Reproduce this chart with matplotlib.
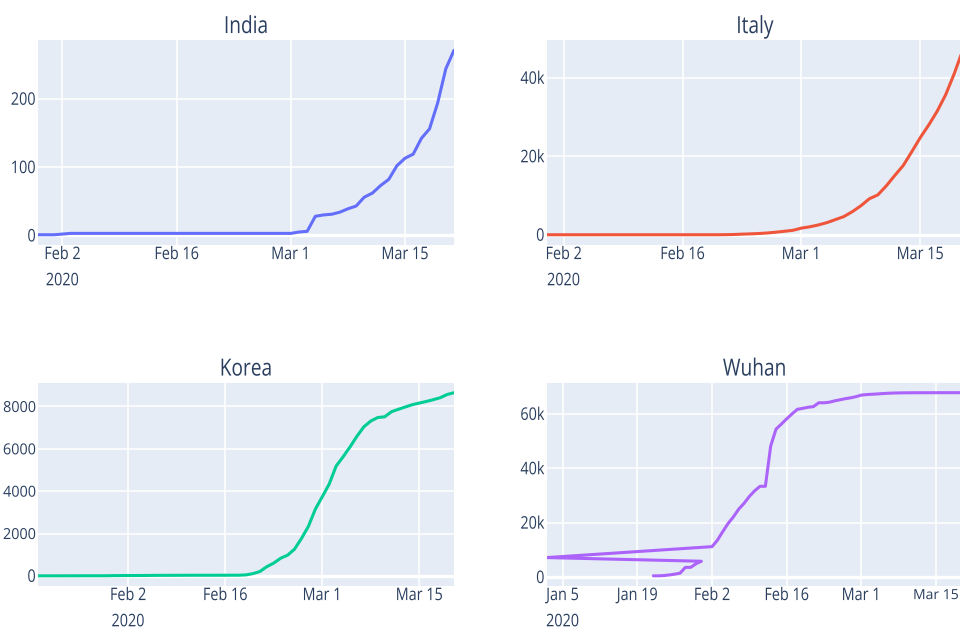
import matplotlib
matplotlib.use("Agg")
import matplotlib.pyplot as plt
from matplotlib.patheffects import AbstractPathEffect
from matplotlib.transforms import Affine2D
from matplotlib.ticker import FuncFormatter
import numpy as np
import pandas as pd

# ---- cumulative confirmed cases, one value per day ----
india_start = "2020-01-30"
india_cases = [1, 1, 1, 2] + [3] * 28 + [5, 6, 28, 30, 31, 34, 39, 43, 56, 62, 73, 82,
                                         102, 113, 119, 142, 156, 194, 244, 271]

italy_start = "2020-01-31"
italy_cases = ([2] * 7 + [3] * 14 +
               [20, 62, 155, 229, 322, 453, 655, 888, 1128,
                1694, 2036, 2502, 3089, 3858, 4636, 5883, 7375, 9172, 10149,
                12462, 15113, 17660, 21157, 24747, 27980, 31506, 35713, 41035, 47021])

korea_start = "2020-01-20"
korea_cases = [1, 1, 1, 1, 2, 2, 3, 4, 4, 4, 4, 11,
               12, 15, 15, 16, 19, 23, 24, 24, 25, 27, 28, 28, 28, 28, 28, 29, 30, 31,
               46, 104, 204, 433, 602, 833, 977, 1261, 1766, 2337, 3150,
               3736, 4335, 5186, 5621, 6088, 6593, 7041, 7314, 7478, 7513,
               7755, 7869, 7979, 8086, 8162, 8236, 8320, 8413, 8565, 8652]

# Hubei rows in file order; the 1 Feb row carries a day-first date (02/01 -> 2 Jan)
wuhan_dates = (list(pd.date_range("2020-01-22", "2020-01-31")) +
               [pd.Timestamp("2020-01-02")] +
               list(pd.date_range("2020-02-02", "2020-03-20")))
wuhan_cases = [444, 444, 549, 761, 1058, 1423, 3554, 3554, 4903, 5806,
               7153,
               11177, 13522, 16678, 19665, 22112, 24953, 27100, 29631, 31728, 33366,
               33366, 48206, 54406, 56249, 58182, 59989, 61682, 62031, 62442, 62662,
               64084, 64084, 64287, 64786, 65187, 65596, 65914, 66337,
               66907, 67103, 67217, 67332, 67466, 67592, 67666, 67707, 67743, 67760,
               67773, 67781, 67786, 67790, 67794, 67798, 67799, 67800, 67800, 67800]

date_ticks = ["2020-01-05", "2020-01-19", "2020-02-02", "2020-02-16",
              "2020-03-01", "2020-03-15"]

india_yticks = [0, 100, 200]
italy_yticks = [0, 20000, 40000]
korea_yticks = [0, 2000, 4000, 6000, 8000]
wuhan_yticks = [0, 20000, 40000, 60000]

titles = ["India", "Italy", "Korea", "Wuhan"]

# ---- styling ----
BG = "#E5ECF6"
TEXT = "#2a3f5f"
COLORS = ["#636EFA", "#EF553B", "#00CC96", "#AB63FA"]
TICK_SIZE = 12.5
TICK_SX = 0.83
plt.rcParams["font.family"] = ["Open Sans", "DejaVu Sans"]


class Narrow(AbstractPathEffect):
    """Draw text glyphs squeezed horizontally about an anchor of each line."""

    def __init__(self, sx=0.83, anchor="center"):
        super().__init__()
        self.sx = sx
        self.anchor = anchor

    def draw_path(self, renderer, gc, tpath, affine, rgbFace=None):
        ext = tpath.get_extents()
        if self.anchor == "right":
            x0 = ext.x1
        elif self.anchor == "left":
            x0 = ext.x0
        else:
            x0 = 0.5 * (ext.x0 + ext.x1)
        squeeze = Affine2D().translate(-x0, 0).scale(self.sx, 1).translate(x0, 0)
        renderer.draw_path(gc, tpath, squeeze + affine, rgbFace)


W, H = 960, 635
fig = plt.figure(figsize=(W / 100, H / 100), dpi=100)


def rect(left, top, right, bottom):
    return [left / W, 1 - bottom / H, (right - left) / W, (bottom - top) / H]


rects = [rect(38, 40, 454, 245), rect(546.7, 40, 962.7, 245),
         rect(38, 382.5, 454, 586), rect(546.7, 382.5, 962.7, 586)]


def fmt_count(v, _pos):
    if abs(v) >= 10000:
        return f"{v / 1000:g}k"
    return f"{v:g}"


series = [
    (pd.date_range(india_start, periods=len(india_cases)), india_cases, india_yticks),
    (pd.date_range(italy_start, periods=len(italy_cases)), italy_cases, italy_yticks),
    (pd.date_range(korea_start, periods=len(korea_cases)), korea_cases, korea_yticks),
    (pd.DatetimeIndex(wuhan_dates), wuhan_cases, wuhan_yticks),
]

tick_dates = pd.to_datetime(date_ticks)

for title, (x, cases, yticks), color, r in zip(titles, series, COLORS, rects):
    ax = fig.add_axes(r)
    ax.set_facecolor(BG)
    for s in ax.spines.values():
        s.set_visible(False)
    ax.set_axisbelow(True)

    y = np.asarray(cases, dtype=float)
    ax.plot(x, y, color=color, lw=2.2, solid_joinstyle="round",
            solid_capstyle="round", zorder=3)

    ax.set_xlim(x.min(), x.max())
    pad = (y.max() - y.min()) / 18
    ax.set_ylim(y.min() - pad, y.max() + pad)

    ax.set_yticks(yticks)
    ax.yaxis.set_major_formatter(FuncFormatter(fmt_count))

    ticks = [d for d in tick_dates if x.min() <= d <= x.max()]
    labels = [f"{d:%b} {d.day}" for d in ticks]
    labels[0] += "\n2020"
    ax.set_xticks(ticks)
    ax.set_xticklabels(labels)

    ax.grid(True, color="white", lw=1.1)
    ax.axhline(0, color="white", lw=2.4, zorder=2)
    ax.tick_params(length=0, labelsize=TICK_SIZE, labelcolor=TEXT)
    ax.tick_params(axis="x", pad=1.5)
    ax.tick_params(axis="y", pad=1.5)

    for lbl in ax.get_xticklabels():
        lbl.set_linespacing(1.85)
        lbl.set_path_effects([Narrow(TICK_SX, "center")])
    for lbl in ax.get_yticklabels():
        lbl.set_path_effects([Narrow(TICK_SX, "right")])

    t = ax.set_title(title, fontsize=17, color=TEXT, pad=5)
    t.set_path_effects([Narrow(0.81, "center")])

# Tick labels whose nominal box runs past the canvas edge get a smaller size
# and a looser squeeze, so the drawn glyph width stays the same.
fig.canvas.draw()
renderer = fig.canvas.get_renderer()
for ax in fig.axes:
    for lbl, anchor in ([(l, "center") for l in ax.get_xticklabels()] +
                        [(l, "right") for l in ax.get_yticklabels()]):
        if not lbl.get_text():
            continue
        bb = lbl.get_window_extent(renderer)
        if anchor == "right":
            need, room = bb.width, bb.x1 - 1
        else:
            cx = 0.5 * (bb.x0 + bb.x1)
            need, room = bb.width / 2, min(cx, W - cx) - 1
        if need > room:
            f = room / need
            lbl.set_fontsize(TICK_SIZE * f)
            lbl.set_path_effects([Narrow(min(1.0, TICK_SX / f), anchor)])

fig.savefig("out.png", dpi=100, facecolor="white")
